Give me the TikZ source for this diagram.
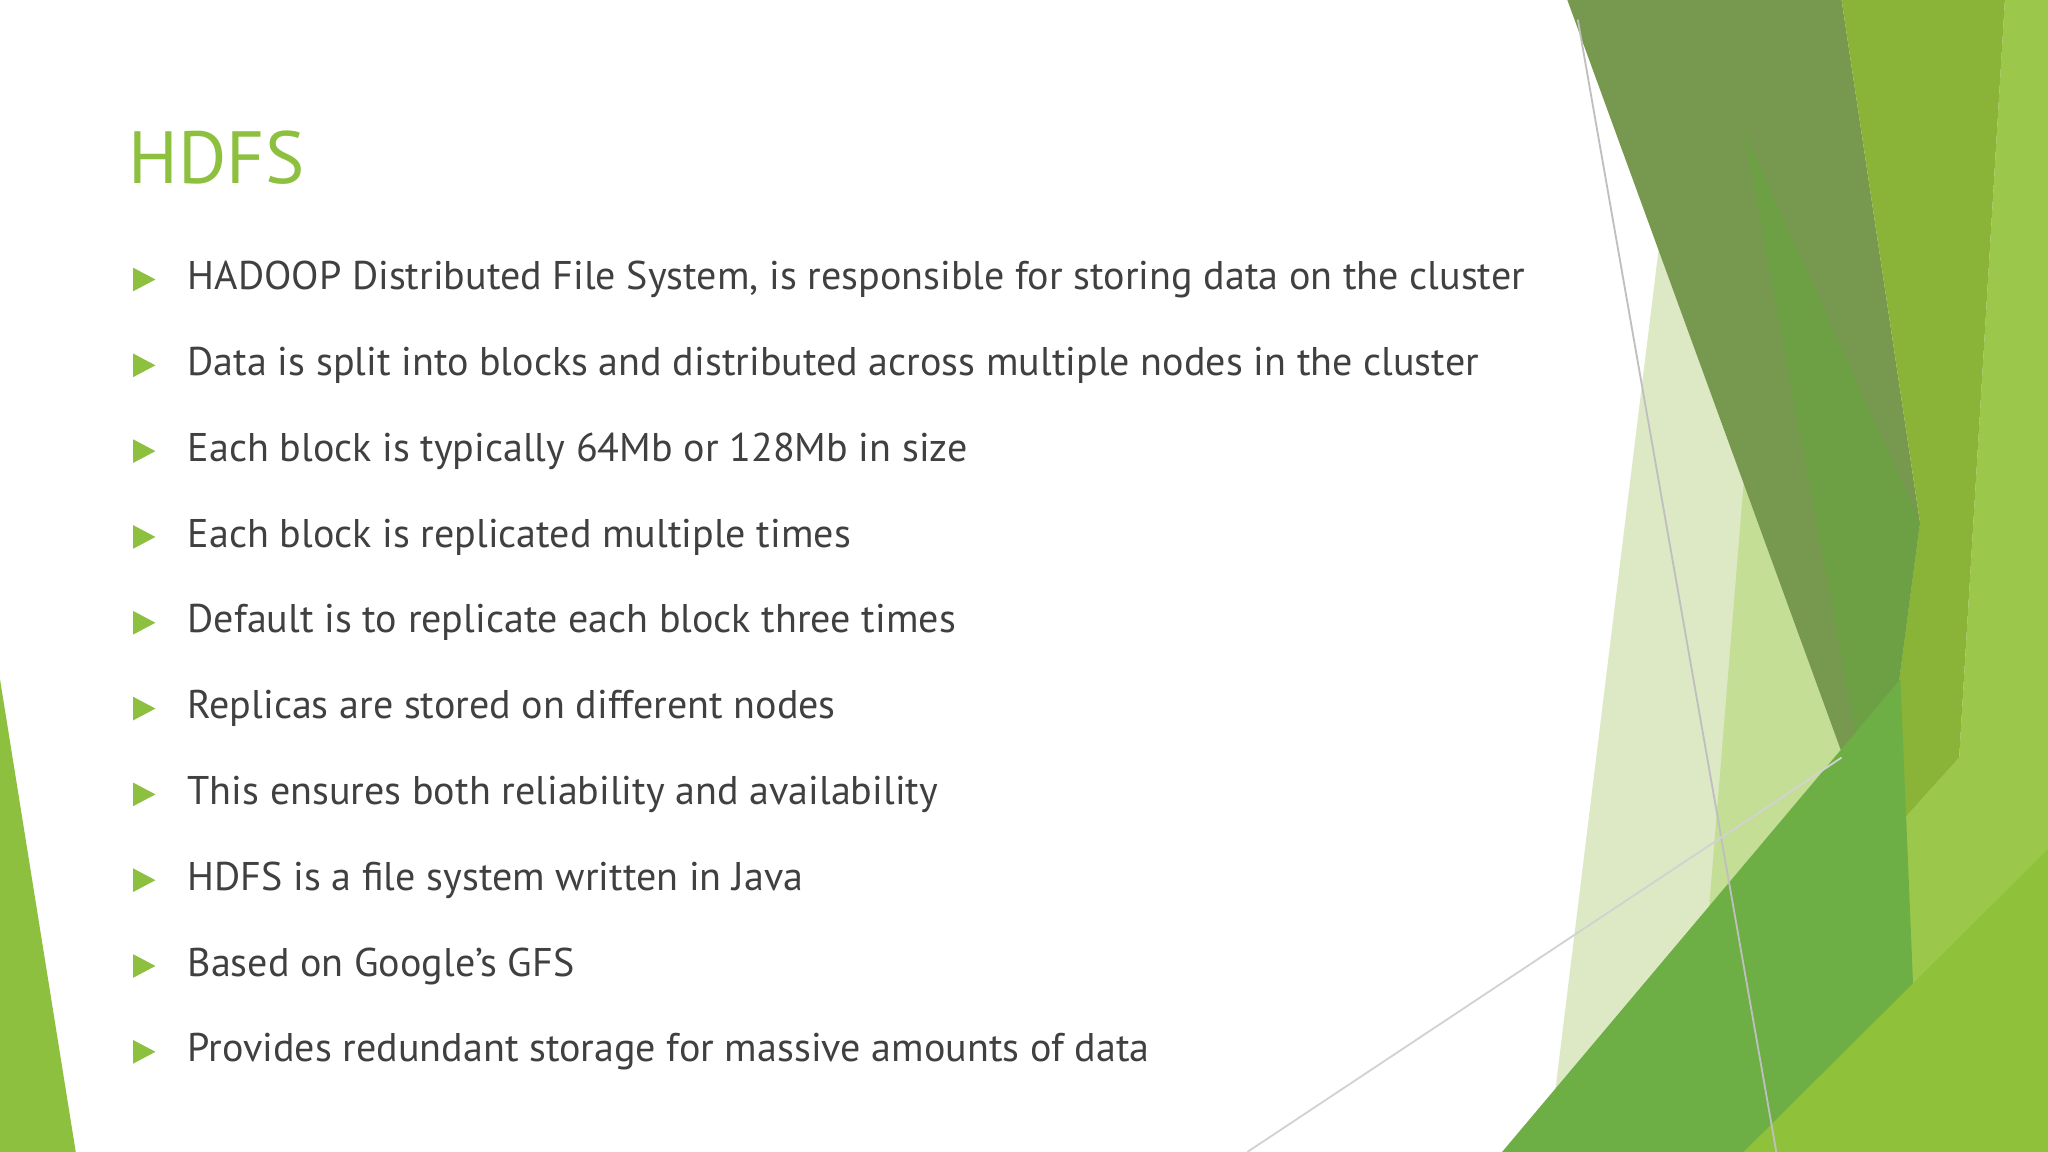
\documentclass[tikz,border=0pt]{standalone}
\usepackage{fontspec}
\setmainfont{PT Sans}
\begin{document}
\begin{tikzpicture}[x=0.01cm,y=-0.01cm,
  bul/.style={fill=bulg,draw=none},
  txt/.style={anchor=west,inner sep=0,font=\fontsize{8.72}{10}\selectfont,text=txtc}]
\definecolor{bulg}{HTML}{8DC03F}
\definecolor{txtc}{HTML}{404040}
\useasboundingbox (0,0) rectangle (1568,882);
\fill[white] (0,0) rectangle (1568,882);
% decorations
\fill[bulg] (0,520) -- (58,882) -- (0,882) -- cycle;
\fill[color={rgb,255:red,221;green,233;blue,196}] (1270,190) -- (1440,640) -- (1230,882) -- (1185,882) -- cycle;
\fill[color={rgb,255:red,196;green,222;blue,150}] (1335,370) -- (1440,640) -- (1300,800) -- cycle;
\fill[color={rgb,255:red,155;green,200;blue,75}] (1535,0) -- (1568,0) -- (1568,882) -- (1400,882) -- (1437,650) -- (1500,580) -- cycle;
\fill[color={rgb,255:red,119;green,153;blue,79}] (1200,0) -- (1410,0) -- (1470,400) -- (1437,650) -- cycle;
\fill[color={rgb,255:red,138;green,180;blue,55}] (1410,0) -- (1535,0) -- (1500,580) -- (1437,650) -- (1470,400) -- cycle;
\fill[color={rgb,255:red,109;green,160;blue,68}] (1335,100) -- (1470,400) -- (1437,650) -- cycle;
\fill[color={rgb,255:red,109;green,174;blue,69}] (1150,882) -- (1455,520) -- (1470,882) -- cycle;
\fill[color={rgb,255:red,143;green,194;blue,58}] (1335,882) -- (1568,650) -- (1568,882) -- cycle;
\draw[gray!50,line width=0.4pt] (1208,15) -- (1360,882);
\draw[gray!35,line width=0.4pt] (955,882) -- (1410,580);
% title
\node[anchor=west,inner sep=0,font=\fontsize{16.1}{19}\selectfont,text=bulg] (title) at (98,121) {HDFS};
\foreach \i/\t in {0/{HADOOP Distributed File System, is responsible for storing data on the cluster},
 1/{Data is split into blocks and distributed across multiple nodes in the cluster},
 2/{Each block is typically 64Mb or 128Mb in size},
 3/{Each block is replicated multiple times},
 4/{Default is to replicate each block three times},
 5/{Replicas are stored on different nodes},
 6/{This ensures both reliability and availability},
 7/{HDFS is a file system written in Java},
 8/{Based on Google’s GFS},
 9/{Provides redundant storage for massive amounts of data}} {
  \pgfmathsetmacro{\yy}{214+65.7*\i}
  \fill[bulg] (102,\yy-9) -- (119,\yy) -- (102,\yy+9) -- cycle;
  \node[txt] (b\i) at (143,\yy) {\t};
}
\end{tikzpicture}
\end{document}
